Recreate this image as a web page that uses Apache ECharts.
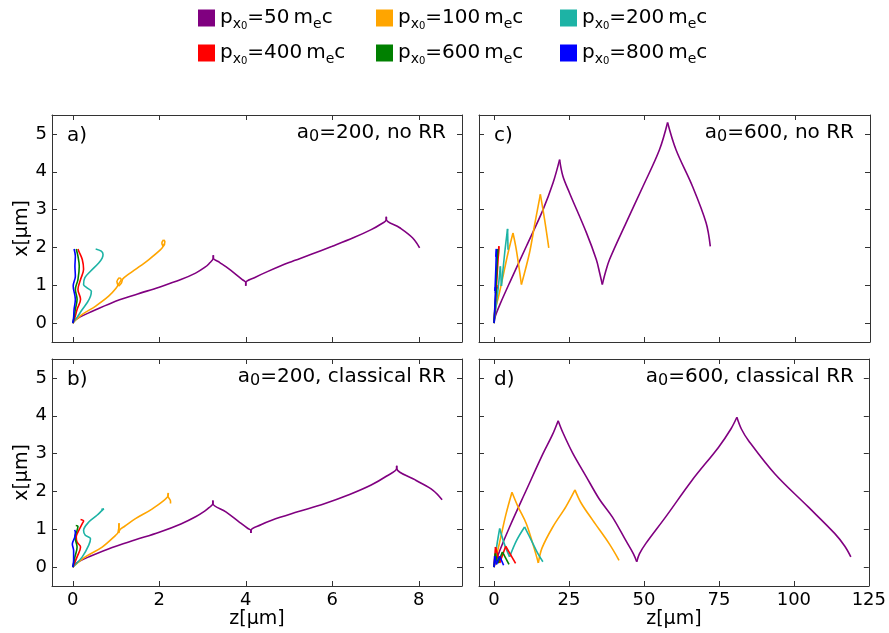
<!DOCTYPE html>
<html><head><meta charset="utf-8">
<script src="https://cdn.jsdelivr.net/npm/echarts@6/dist/echarts.min.js"></script>
<style>html,body{margin:0;padding:0;background:#fff}#c{width:889px;height:633px}</style>
</head><body><div id="c"></div>
<script>
// ---- data: [z (µm), x (µm)] pairs ----
const seriesKeys = ['p50','p100','p200','p400','p600','p800'];
const legendValues = [50,100,200,400,600,800];
const colors = ['#800080','#FFA500','#1DB3A5','#FF0000','#008000','#0000FF'];

const a_p50 = [[0,0],[0.05,0.08],[0.15,0.15],[0.37,0.27],[0.91,0.54],[1.45,0.75],[2.0,0.95],[2.5,1.15],[2.84,1.32],[3.05,1.47],[3.15,1.57],[3.25,1.72],[3.25,1.79],[3.25,1.72],[3.4,1.6],[3.54,1.49],[3.77,1.29],[3.92,1.15],[4.0,1.07],[4.0,0.99],[4.0,1.07],[4.2,1.2],[4.5,1.36],[5.0,1.6],[5.5,1.81],[6.0,2.03],[6.5,2.26],[6.9,2.47],[7.1,2.6],[7.25,2.74],[7.25,2.81],[7.25,2.74],[7.56,2.52],[7.86,2.25],[8.02,1.99]];
const a_p100 = [[0,0],[0.22,0.23],[0.53,0.45],[0.83,0.71],[1.0,0.92],[1.07,1.05],[1.12,1.15],[1.08,1.2],[1.02,1.1],[1.06,0.98],[1.12,1.05],[1.16,1.17],[1.3,1.3],[1.45,1.42],[1.76,1.68],[2.03,1.94],[2.1,2.05],[2.13,2.15],[2.1,2.2],[2.06,2.12],[2.09,2.03],[2.13,2.1]];
const a_p200 = [[0,0],[0.1,0.15],[0.22,0.36],[0.34,0.55],[0.41,0.71],[0.43,0.84],[0.33,0.93],[0.25,1.02],[0.28,1.2],[0.41,1.37],[0.6,1.59],[0.68,1.72],[0.7,1.81],[0.66,1.9],[0.53,1.96]];
const a_p400 = [[0,0],[0.05,0.15],[0.1,0.36],[0.18,0.63],[0.12,0.89],[0.18,1.15],[0.25,1.42],[0.22,1.68],[0.14,1.9],[0.12,1.96]];
const a_p600 = [[0,0],[0.03,0.15],[0.06,0.36],[0.1,0.63],[0.06,0.89],[0.12,1.15],[0.15,1.5],[0.12,1.77],[0.08,1.96]];
const a_p800 = [[0,0],[0.02,0.15],[0.03,0.36],[0.06,0.63],[0.01,0.98],[0.06,1.24],[0.05,1.5],[0.06,1.77],[0.03,1.96]];

const b_p50 = [[0,0],[0.05,0.08],[0.15,0.15],[0.37,0.27],[0.91,0.52],[1.45,0.72],[2.0,0.92],[2.5,1.14],[2.84,1.33],[3.05,1.48],[3.15,1.57],[3.24,1.68],[3.24,1.76],[3.24,1.68],[3.54,1.46],[3.85,1.19],[4.05,1.02],[4.12,0.97],[4.12,0.9],[4.12,0.97],[4.35,1.12],[4.6,1.24],[5.2,1.46],[5.8,1.67],[6.4,1.92],[6.9,2.17],[7.25,2.4],[7.49,2.61],[7.49,2.68],[7.49,2.61],[7.94,2.29],[8.33,2.03],[8.54,1.78]];
const b_p100 = [[0,0],[0.29,0.27],[0.68,0.53],[0.99,0.84],[1.05,0.92],[1.07,1.16],[1.06,0.9],[1.1,1.0],[1.2,1.08],[1.45,1.28],[1.84,1.54],[2.19,1.85],[2.21,1.96],[2.2,1.88],[2.26,1.75],[2.26,1.68]];
const b_p200 = [[0,0],[0.22,0.27],[0.37,0.58],[0.41,0.75],[0.29,0.84],[0.25,0.97],[0.37,1.19],[0.56,1.37],[0.68,1.5],[0.72,1.54],[0.66,1.52]];
const b_p400 = [[0,0],[0.1,0.27],[0.18,0.53],[0.1,0.66],[0.08,0.8],[0.14,0.97],[0.22,1.15],[0.25,1.22],[0.18,1.26]];
const b_p600 = [[0,0],[0.05,0.27],[0.1,0.53],[0.05,0.8],[0.1,0.97],[0.12,1.08],[0.07,1.1]];
const b_p800 = [[0,0],[0.02,0.18],[0.02,0.44],[-0.01,0.61],[0.05,0.8],[0.06,0.93],[0.04,0.98]];

const c_p50 = [[0,0],[0.5,0.2],[2,0.5],[5.2,1.07],[10.75,2.03],[16.3,3.0],[19.6,3.7],[21.8,4.32],[22.9,3.88],[25.1,3.44],[30.7,2.39],[34.0,1.68],[35.1,1.33],[36.0,1.02],[37.0,1.33],[38.4,1.68],[43.9,2.65],[49.5,3.61],[55.0,4.58],[57.7,5.3],[60.5,4.58],[66.0,3.61],[70.5,2.65],[71.9,2.03]];
const c_p100 = [[0,0],[0.2,0.27],[1.5,0.7],[3.0,1.24],[4.5,1.8],[6.3,2.38],[7.4,1.94],[9.1,1.02],[11.8,1.86],[13.5,2.6],[15.4,3.4],[16.8,2.74],[18.2,1.99]];
const c_p200 = [[0,0],[1.33,0.89],[2.1,1.5],[2.45,0.98],[3.55,1.86],[4.5,2.49],[4.65,1.94]];
const c_p400 = [[0,0],[0.5,0.6],[0.9,1.0],[0.7,0.85],[1.2,1.5],[1.6,2.03],[1.4,1.75]];
const c_p600 = [[0,0],[0.4,0.55],[0.8,0.95],[0.5,0.8],[0.9,1.4],[1.2,1.95],[1.1,1.8]];
const c_p800 = [[0,0],[0.3,0.5],[0.5,0.95],[0.3,0.85],[0.6,1.45],[0.8,1.96],[0.6,1.75]];

const d_p50 = [[0,0],[2,0.45],[5.2,1.06],[10.75,2.03],[16.3,2.99],[19.5,3.5],[21.4,3.87],[23.0,3.55],[26.2,3.02],[30.7,2.4],[35.1,1.8],[39.5,1.32],[43.9,0.71],[46.5,0.35],[47.6,0.14],[48.5,0.35],[50.6,0.62],[57.2,1.32],[66.0,2.29],[74.9,3.17],[79.0,3.65],[81.0,3.96],[82.5,3.65],[84.9,3.34],[93.7,2.46],[104.8,1.59],[113.6,0.89],[117,0.55],[119.0,0.27]];
const d_p100 = [[0,0],[2,0.7],[4,1.4],[6.0,1.98],[8,1.6],[10.75,1.15],[13,0.6],[14.8,0.11],[16,0.5],[19.6,1.06],[24,1.6],[27.0,2.04],[29,1.7],[32.9,1.24],[38.4,0.62],[41.7,0.18]];
const d_p200 = [[0,0],[1,0.6],[1.9,1.02],[3.5,0.6],[5.2,0.27],[7.5,0.7],[10.2,1.06],[12.5,0.7],[14.6,0.36],[16.3,0.14]];
const d_p400 = [[0,0],[0.5,0.53],[1.9,0.11],[3.9,0.55],[7.2,0.1]];
const d_p600 = [[0,0],[0.45,0.36],[1.3,0.1],[2.8,0.4],[5.0,0.07]];
const d_p800 = [[0,0],[0.23,0.29],[0.8,0.07],[1.9,0.29],[3.2,0.05]];

const xTicksLeft = [0,2,4,6,8];
const xTicksRight = [0,25,50,75,100,125];
const yTicks = [0,1,2,3,4,5];
const panelLetters = ['a)','b)','c)','d)'];
const panelA0 = ['200','200','600','600'];
const panelRR = ['no RR','classical RR','no RR','classical RR'];

// ---- layout ----
const FONT = 'DejaVu Sans';
const FRAME = '#333';
const grids = [
  {left:52, top:115, width:410, height:227},
  {left:52, top:359, width:410, height:227},
  {left:479, top:115, width:391, height:227},
  {left:479, top:359, width:391, height:227}
];
const panelData = [
  [a_p50,a_p100,a_p200,a_p400,a_p600,a_p800],
  [b_p50,b_p100,b_p200,b_p400,b_p600,b_p800],
  [c_p50,c_p100,c_p200,c_p400,c_p600,c_p800],
  [d_p50,d_p100,d_p200,d_p400,d_p600,d_p800]
];
const xRange = [[-0.48,9.0],[-0.48,9.0],[-5,125],[-5,125]];
const yRange = [-0.5,5.5];

const xAxes = [], yAxes = [];
for (let pos of ['bottom','top']) {
  for (let g=0; g<4; g++) {
    const ticks = g<2 ? xTicksLeft : xTicksRight;
    const showLab = pos==='bottom' && (g===1 || g===3);
    xAxes.push({
      type:'value', gridIndex:g, position:pos, min:xRange[g][0], max:xRange[g][1],
      axisLine:{show:true, onZero:false, lineStyle:{color:FRAME,width:1}},
      axisTick:{show:true, inside:true, length:5, customValues:ticks, lineStyle:{color:FRAME}},
      axisLabel:{show:showLab, customValues:ticks, color:'#000', fontFamily:FONT, fontSize:18, margin:5},
      splitLine:{show:false},
      name: showLab ? 'z[μm]' : '', nameLocation:'middle', nameGap:24,
      nameTextStyle:{fontFamily:FONT, fontSize:19, color:'#000'}
    });
  }
}
for (let pos of ['left','right']) {
  for (let g=0; g<4; g++) {
    const showLab = pos==='left' && (g===0 || g===1);
    yAxes.push({
      type:'value', gridIndex:g, position:pos, min:yRange[0], max:yRange[1],
      axisLine:{show:true, onZero:false, lineStyle:{color:FRAME,width:1}},
      axisTick:{show:true, inside:true, length:5, customValues:yTicks, lineStyle:{color:FRAME}},
      axisLabel:{show:showLab, customValues:yTicks, color:'#000', fontFamily:FONT, fontSize:18, margin:5},
      splitLine:{show:false},
      name: showLab ? 'x[μm]' : '', nameLocation:'middle', nameGap:20, nameMoveOverlap:false,
      nameTextStyle:{fontFamily:FONT, fontSize:19, color:'#000'}
    });
  }
}

// split a trajectory where its vertical motion turns (cusps), so each piece can be smoothed
function splitAtTurns(arr) {
  const pieces = [];
  let cur = [arr[0]];
  for (let i=1; i<arr.length; i++) {
    cur.push(arr[i]);
    if (i < arr.length-1) {
      const d1 = arr[i][1]-arr[i-1][1], d2 = arr[i+1][1]-arr[i][1];
      if (d1*d2 < 0) { pieces.push(cur); cur = [arr[i]]; }
    }
  }
  pieces.push(cur);
  return pieces;
}

const series = [];
for (let g=0; g<4; g++) {
  for (let s=0; s<6; s++) {
    splitAtTurns(panelData[g][s]).forEach(piece => {
      series.push({
        type:'line', name:seriesKeys[s], xAxisIndex:g, yAxisIndex:g,
        data:piece, showSymbol:false, symbol:'none', smooth:0.35,
        lineStyle:{color:colors[s], width:1.6}, itemStyle:{color:colors[s]},
        clip:true, z: 2+s
      });
    });
  }
}

// legend: 2 rows x 3 columns, one legend component per entry
const legCols = [198,376,560];
const legRows = [8,43];
const legRich = {
  m:{fontFamily:FONT, fontSize:20, lineHeight:26, color:'#000', verticalAlign:'middle'},
  s:{fontFamily:FONT, fontSize:14, lineHeight:14, color:'#000', verticalAlign:'bottom'},
  z:{fontFamily:FONT, fontSize:10, lineHeight:8, color:'#000', verticalAlign:'bottom'}
};
const legends = seriesKeys.map((k,i)=>({
  data:[k], left:legCols[i%3], top:legRows[Math.floor(i/3)], padding:0,
  icon:'rect', itemWidth:17, itemHeight:17, selectedMode:false,
  formatter:()=>`{m|p}{s|x}{z|0}{m|=${legendValues[i]}\u2009m}{s|e}{m|c}`,
  textStyle:{rich:legRich, fontFamily:FONT, fontSize:20, color:'#000'}
}));

// panel annotations
const graphic = [];
const annRich = {
  m:{fontFamily:FONT, fontSize:20, lineHeight:24, color:'#000', verticalAlign:'middle'},
  s:{fontFamily:FONT, fontSize:16, lineHeight:6, color:'#000', verticalAlign:'bottom'}
};
for (let g=0; g<4; g++) {
  const gr = grids[g];
  graphic.push({type:'text', left:gr.left+15, top:gr.top+11,
    style:{text:panelLetters[g], fontFamily:FONT, fontSize:20, fill:'#000'}});
  graphic.push({type:'text', right:889-(gr.left+gr.width-16), top:gr.top+8,
    style:{text:`{m|a}{s|0}{m|=${panelA0[g]}, ${panelRR[g]}}`, rich:annRich, fill:'#000'}});
}

const chart = echarts.init(document.getElementById('c'), null, {renderer:'canvas'});
chart.setOption({
  animation:false, backgroundColor:'#fff',
  grid:grids, xAxis:xAxes, yAxis:yAxes, series:series, legend:legends, graphic:graphic
});
</script></body></html>
